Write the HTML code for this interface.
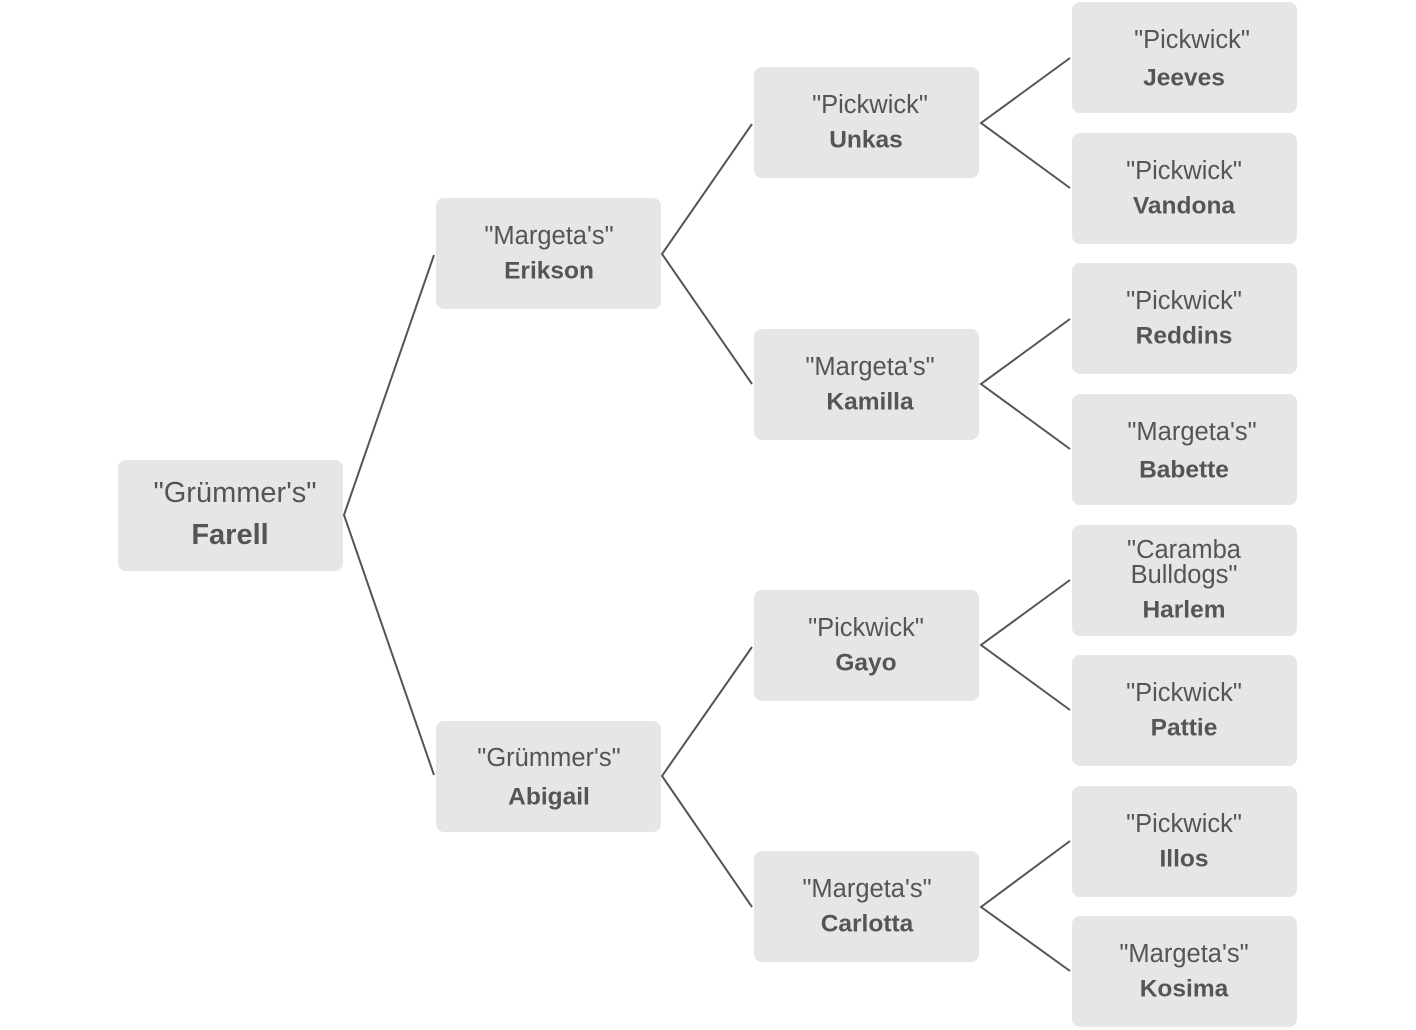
<!DOCTYPE html>
<html><head><meta charset="utf-8"><style>
html,body{margin:0;padding:0;background:#fff;}
svg{display:block;}
text{font-family:"Liberation Sans",Arial,sans-serif;fill:#555;text-anchor:middle;dominant-baseline:central;}
.n{font-size:25.5px;}
.b{font-size:24.5px;font-weight:bold;}
</style></head><body>
<svg width="1416" height="1030" viewBox="0 0 1416 1030">
<g stroke="#555" stroke-width="2" fill="none">
<polyline points="434,255 344,515 434,775"/>
<polyline points="752,124 662,254 752,384"/>
<polyline points="752,647 662,776 752,907"/>
<polyline points="1070,58 981,123 1070,188"/>
<polyline points="1070,319 981,384 1070,449"/>
<polyline points="1070,580 981,645 1070,710"/>
<polyline points="1070,841 981,907 1070,971"/>
</g>
<g fill="#e6e6e6">
<rect x="118" y="460" width="225" height="111" rx="8"/>
<rect x="436" y="198" width="225" height="111" rx="8"/>
<rect x="436" y="721" width="225" height="111" rx="8"/>
<rect x="754" y="67" width="225" height="111" rx="8"/>
<rect x="754" y="329" width="225" height="111" rx="8"/>
<rect x="754" y="590" width="225" height="111" rx="8"/>
<rect x="754" y="851" width="225" height="111" rx="8"/>
<rect x="1072" y="2" width="225" height="111" rx="8"/>
<rect x="1072" y="133" width="225" height="111" rx="8"/>
<rect x="1072" y="263" width="225" height="111" rx="8"/>
<rect x="1072" y="394" width="225" height="111" rx="8"/>
<rect x="1072" y="525" width="225" height="111" rx="8"/>
<rect x="1072" y="655" width="225" height="111" rx="8"/>
<rect x="1072" y="786" width="225" height="111" rx="8"/>
<rect x="1072" y="916" width="225" height="111" rx="8"/>
</g>
<text x="235" y="493" style="font-size:29px">"Grümmer's"</text>
<text x="230" y="535" style="font-size:29px;font-weight:bold">Farell</text>

<text class="n" x="549" y="236">"Margeta's"</text><text class="b" x="549" y="271">Erikson</text>
<text class="n" x="549" y="758">"Grümmer's"</text><text class="b" x="549" y="797">Abigail</text>

<text class="n" x="870" y="105">"Pickwick"</text><text class="b" x="866" y="140">Unkas</text>
<text class="n" x="870" y="367">"Margeta's"</text><text class="b" x="870" y="402">Kamilla</text>
<text class="n" x="866" y="628">"Pickwick"</text><text class="b" x="866" y="663">Gayo</text>
<text class="n" x="867" y="889">"Margeta's"</text><text class="b" x="867" y="924">Carlotta</text>

<text class="n" x="1192" y="40">"Pickwick"</text><text class="b" x="1184" y="78">Jeeves</text>
<text class="n" x="1184" y="171">"Pickwick"</text><text class="b" x="1184" y="206">Vandona</text>
<text class="n" x="1184" y="301">"Pickwick"</text><text class="b" x="1184" y="336">Reddins</text>
<text class="n" x="1192" y="432">"Margeta's"</text><text class="b" x="1184" y="470">Babette</text>
<text class="n" x="1184" y="550">"Caramba</text><text class="n" x="1184" y="575">Bulldogs"</text><text class="b" x="1184" y="610">Harlem</text>
<text class="n" x="1184" y="693">"Pickwick"</text><text class="b" x="1184" y="728">Pattie</text>
<text class="n" x="1184" y="824">"Pickwick"</text><text class="b" x="1184" y="859">Illos</text>
<text class="n" x="1184" y="954">"Margeta's"</text><text class="b" x="1184" y="989">Kosima</text>
</svg>
</body></html>
